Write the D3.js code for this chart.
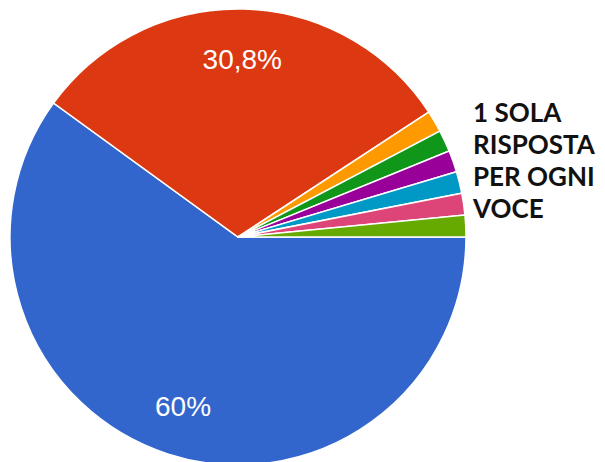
<!DOCTYPE html>
<html>
<head>
<meta charset="utf-8">
<script src="https://cdn.jsdelivr.net/npm/d3@7"></script>
<style>
  body { margin: 0; background: #fff; }
  svg { display: block; }
</style>
</head>
<body>
<svg id="chart" width="605" height="462"></svg>
<script>
// risposte per voce
const categories = ["Voce 1", "Voce 2", "Voce 3", "Voce 4", "Voce 5", "Voce 6", "Voce 7", "Voce 8"];
const counts = [39, 20, 1, 1, 1, 1, 1, 1];
const sliceLabels = ["60%", "30,8%", "", "", "", "", "", ""];
const colors = ["#3366cc", "#dc3912", "#ff9900", "#109618", "#990099", "#0099c6", "#dd4477", "#66aa00"];
const noteLines = ["1 SOLA", "RISPOSTA", "PER OGNI", "VOCE"];

const data = categories.map((c, i) => ({ name: c, value: counts[i], label: sliceLabels[i] }));

const cx = 238, cy = 237, R = 228;
const svg = d3.select("#chart");
const g = svg.append("g").attr("transform", `translate(${cx},${cy})`);

// start at 3 o'clock, clockwise
const pie = d3.pie()
  .value(d => d.value)
  .sort(null)
  .startAngle(Math.PI / 2)
  .endAngle(Math.PI / 2 + 2 * Math.PI);

const arc = d3.arc().innerRadius(0).outerRadius(R);
const labelArc = d3.arc().innerRadius(R * 0.78).outerRadius(R * 0.78);

const color = d3.scaleOrdinal().domain(categories).range(colors);

const arcs = pie(data);

g.selectAll("path.slice")
  .data(arcs)
  .enter()
  .append("path")
  .classed("slice", true)
  .attr("d", arc)
  .attr("fill", d => color(d.data.name))
  .attr("stroke", "#fff")
  .attr("stroke-width", 1.5);

g.selectAll("text.pct")
  .data(arcs.filter(d => d.data.label))
  .enter()
  .append("text")
  .classed("pct", true)
  .attr("x", d => labelArc.centroid(d)[0])
  .attr("y", d => labelArc.centroid(d)[1])
  .attr("dy", "0.36em")
  .attr("text-anchor", "middle")
  .attr("fill", "#fff")
  .style("font-family", "'Liberation Sans', Arial, sans-serif")
  .style("font-size", "28px")
  .text(d => d.data.label);

// nota a destra
svg.append("g")
  .selectAll("text.note")
  .data(noteLines)
  .enter()
  .append("text")
  .classed("note", true)
  .attr("x", 473)
  .attr("y", (d, i) => 122 + i * 32)
  .attr("fill", "#111")
  .style("font-family", "Lato, sans-serif")
  .style("font-weight", "bold")
  .style("font-size", "26px")
  .text(d => d);
</script>
</body>
</html>
